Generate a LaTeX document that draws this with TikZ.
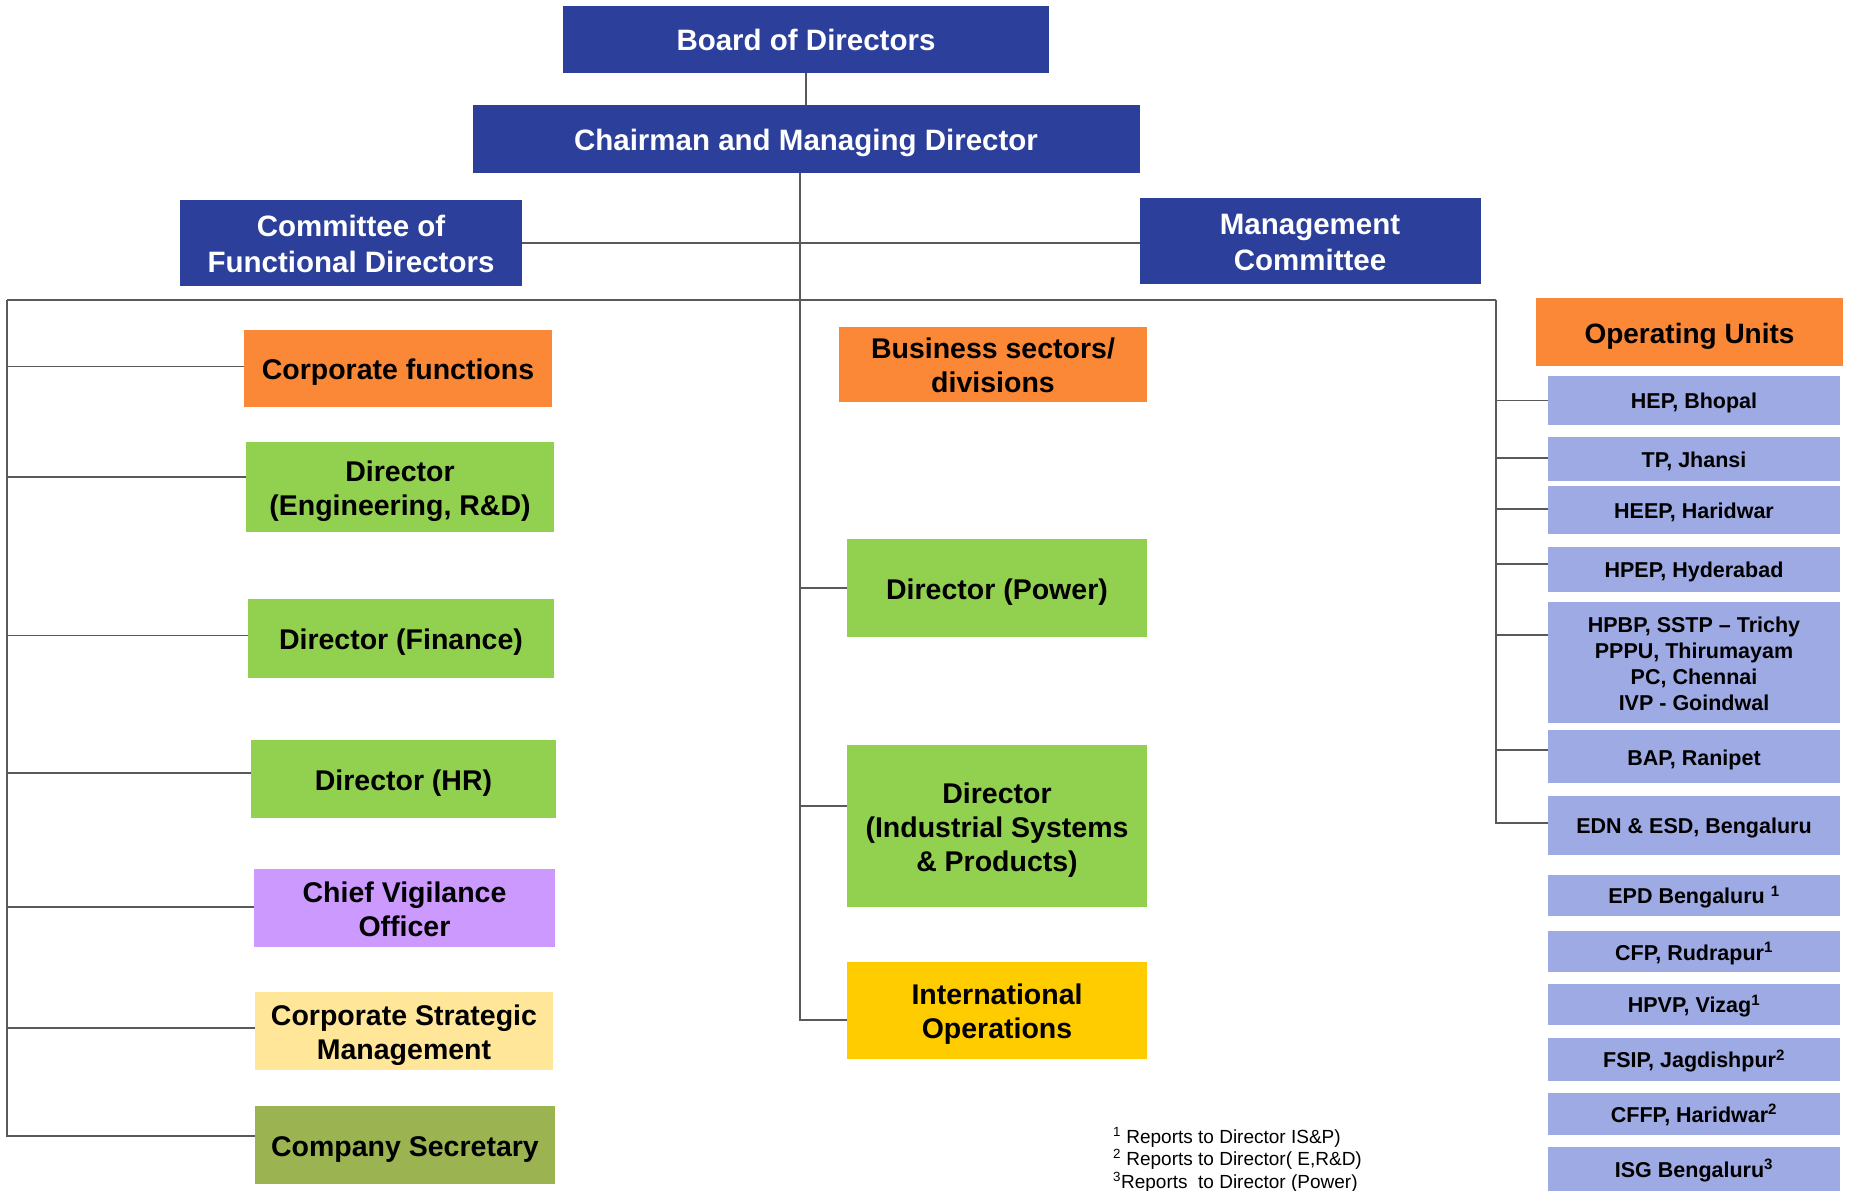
\documentclass[tikz,border=0pt]{standalone}
\usepackage{fontspec}
\setmainfont{Liberation Sans}
\usepackage{tikz}
\usetikzlibrary{calc}
\definecolor{navy}{HTML}{2B3F9B}
\definecolor{tangerine}{HTML}{FA8837}
\definecolor{leaf}{HTML}{92D050}
\definecolor{lilac}{HTML}{CC99FF}
\definecolor{cream}{HTML}{FFE699}
\definecolor{olive}{HTML}{9BB451}
\definecolor{gold}{HTML}{FFCC00}
\definecolor{periwinkle}{HTML}{9DAAE3}
\definecolor{wire}{HTML}{595959}
% first line of a wrapped label gets the same top room as a single line
\newcommand{\upstrut}{\rule{0pt}{1em}}

\begin{document}
\begin{tikzpicture}[x=1pt, y=-1pt,
  every node/.append style={execute at begin node={\rule[-0.21em]{0pt}{1.21em}},
    execute at end node={\rule[-0.21em]{0pt}{0pt}}},
  head/.style={fill=navy, text=white, align=center, inner sep=0pt, outer sep=0pt,
    font=\fontsize{29.5}{36}\selectfont\bfseries},
  unitbox/.style={align=center, inner sep=0pt, outer sep=0pt, text=black,
    font=\fontsize{28.5}{34}\selectfont\bfseries},
  site/.style={fill=periwinkle, align=center, inner sep=0pt, outer sep=0pt,
    minimum width=292pt, font=\fontsize{21.5}{26}\selectfont\bfseries},
  note/.style={inner sep=0pt, font=\fontsize{19}{22.5}\selectfont},
  link/.style={draw=wire, line width=1.8pt}]
  \useasboundingbox (0,0) rectangle (1850,1191);

  % top of the chart
  \node[head, minimum width=486pt, minimum height=67pt] (board) at (806,39) {Board of Directors};
  \node[head, minimum width=667pt, minimum height=68pt] (cmd) at (806,139) {Chairman and Managing Director};
  \node[head, minimum width=342pt, minimum height=86pt] (cfd) at (351,243) {\upstrut Committee of\\Functional Directors};
  \node[head, minimum width=341pt, minimum height=86pt] (mc) at (1310,241) {\upstrut Management\\Committee};

  % left column
  \node[unitbox, fill=tangerine, minimum width=308pt, minimum height=77pt] (corp) at (398,368.5) {Corporate functions};
  \node[unitbox, fill=leaf, minimum width=308pt, minimum height=90pt] (eng) at (400,487) {\upstrut Director\\(Engineering, R\&D)};
  \node[unitbox, fill=leaf, minimum width=306pt, minimum height=79pt] (fin) at (401,638.5) {Director (Finance)};
  \node[unitbox, fill=leaf, minimum width=305pt, minimum height=78pt] (hr) at (403.5,779) {Director (HR)};
  \node[unitbox, fill=lilac, minimum width=301pt, minimum height=78pt] (cvo) at (404.5,908) {\upstrut Chief Vigilance\\Officer};
  \node[unitbox, fill=cream, minimum width=298pt, minimum height=78pt] (csm) at (404,1031) {\upstrut Corporate Strategic\\Management};
  \node[unitbox, fill=olive, minimum width=300pt, minimum height=78pt] (cs) at (405,1145) {Company Secretary};

  % middle column
  \node[unitbox, fill=tangerine, minimum width=308pt, minimum height=75pt] (biz) at (993,364.5) {\upstrut Business sectors/\\divisions};
  \node[unitbox, fill=leaf, minimum width=300pt, minimum height=98pt] (power) at (997,588) {Director (Power)};
  \node[unitbox, fill=leaf, minimum width=300pt, minimum height=162pt] (isp) at (997,826) {\upstrut Director\\(Industrial Systems\\\& Products)};
  \node[unitbox, fill=gold, minimum width=300pt, minimum height=97pt] (intl) at (997,1010.5) {\upstrut International\\Operations};

  % right column
  \node[unitbox, fill=tangerine, minimum width=307pt, minimum height=68pt,
    font=\fontsize{28}{34}\selectfont\bfseries] (ou) at (1689.5,332) {Operating Units};
  \foreach \n/\yc/\tall/\txt in {
    hep/400.5/49/{HEP, Bhopal},
    tp/459/44/{TP, Jhansi},
    heep/510/48/{HEEP, Haridwar},
    hpep/569.5/45/{HPEP, Hyderabad},
    hpbp/662.5/121/{\upstrut HPBP, SSTP -- Trichy\\PPPU, Thirumayam\\PC, Chennai\\IVP - Goindwal},
    bap/756.5/53/{BAP, Ranipet},
    edn/825.5/59/{EDN \& ESD, Bengaluru},
    epd/895.5/41/{EPD Bengaluru \textsuperscript{1}},
    cfp/951.5/41/{CFP, Rudrapur\textsuperscript{1}},
    hpvp/1004.5/41/{HPVP, Vizag\textsuperscript{1}},
    fsip/1059.5/43/{FSIP, Jagdishpur\textsuperscript{2}},
    cffp/1114/42/{CFFP, Haridwar\textsuperscript{2}},
    isg/1169/44/{ISG Bengaluru\textsuperscript{3}}} {
    \node[site, minimum height=\tall pt] (\n) at (1694,\yc) {\txt};
  }

  % footnotes
  \foreach \i/\yb/\txt in {
    1/1143/{\textsuperscript{1} Reports to Director IS\&P)},
    2/1165/{\textsuperscript{2} Reports to Director( E,R\&D)},
    3/1188/{\textsuperscript{3}Reports\ \ to Director (Power)}} {
    \node[note, anchor=base west] (note\i) at (1113,\yb) {\txt};
  }

  % connectors
  \coordinate (trunk) at ([xshift=-6pt]cmd.south);
  \coordinate (lbus) at (7,300);
  \coordinate (rbus) at (1496,300);
  \draw[link] (board.south) -- (cmd.north);
  \draw[link] (cfd.east) -- (cfd.east -| mc.west);
  \draw[link] (lbus) -- (rbus);
  \draw[link] (trunk) |- ([yshift=-9.5pt]intl.west);
  \draw[link] (power.west) -- (power.west -| trunk);
  \draw[link] ([yshift=20pt]isp.west) -- ([yshift=20pt]isp.west -| trunk);
  \draw[link] (lbus) |- ([yshift=9pt]cs.west);
  \foreach \n/\dy in {corp/2, eng/10, fin/3, hr/6, cvo/1, csm/3}
    \draw[link] ([yshift=\dy pt]\n.west) -- ([yshift=\dy pt]\n.west -| lbus);
  \draw[link] (rbus) |- ([yshift=2.5pt]edn.west);
  \foreach \n/\dy in {hep/0, tp/1, heep/1, hpep/5.5, hpbp/27.5, bap/6.5}
    \draw[link] ([yshift=\dy pt]\n.west) -- ([yshift=\dy pt]\n.west -| rbus);
\end{tikzpicture}
\end{document}
